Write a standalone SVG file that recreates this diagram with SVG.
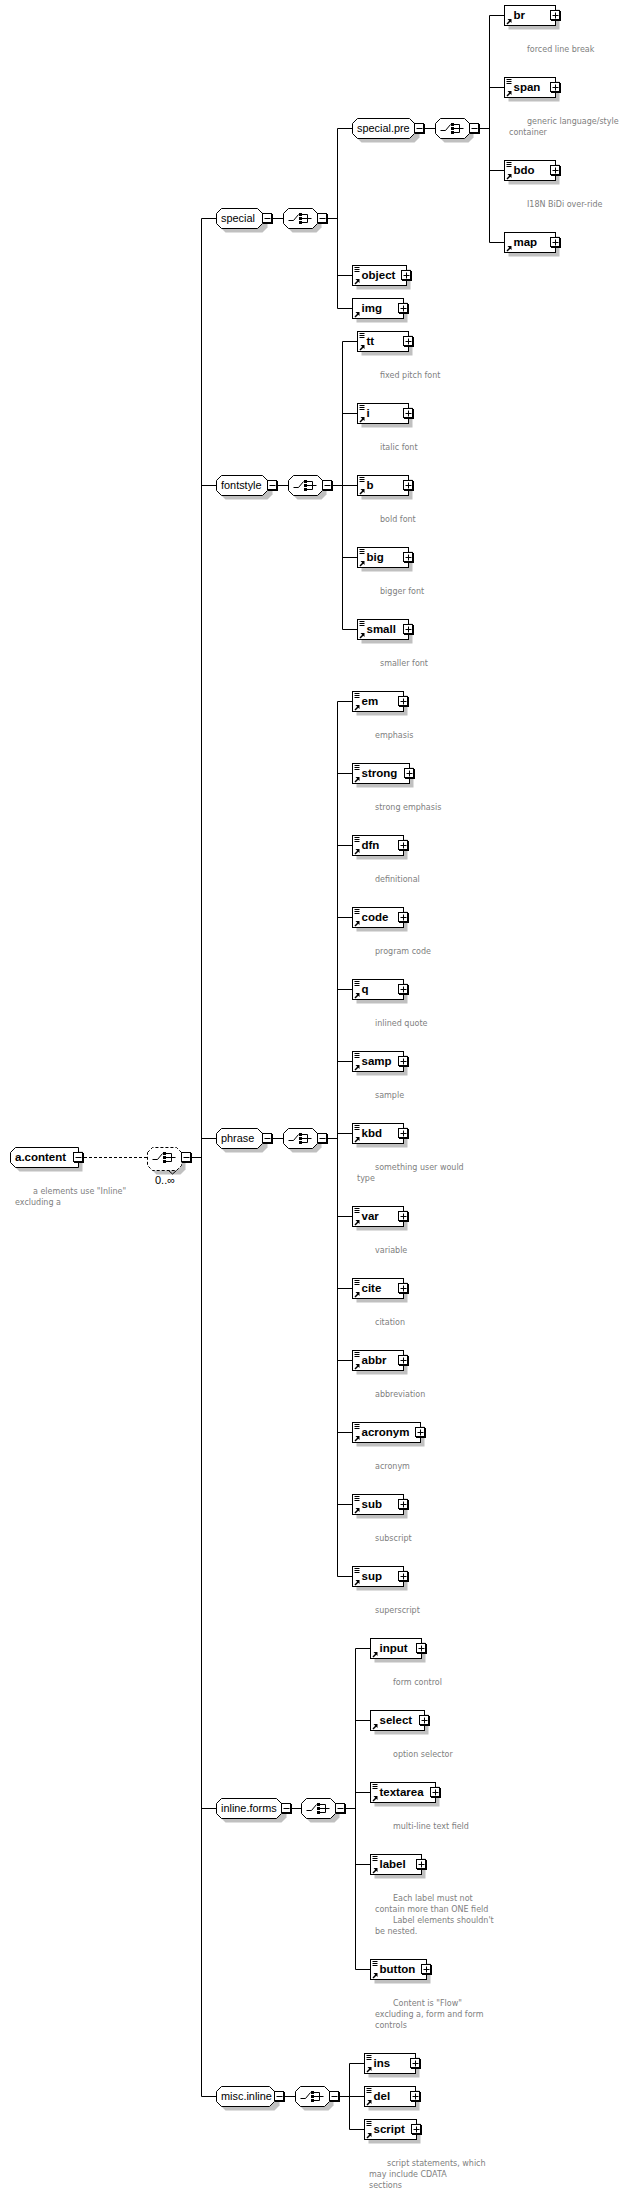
<svg xmlns="http://www.w3.org/2000/svg" width="632" height="2206" viewBox="0 0 632 2206">
<style>
text{font-family:"Liberation Sans",Arial,sans-serif;fill:#000}
.n{font-size:11.5px;font-weight:bold}
.g{font-size:10.9px}
.d{font-family:"DejaVu Sans",Verdana,sans-serif;font-size:8px;fill:#808080}
.o{font-size:11px}
.sh{fill:#c0c0c0;stroke:none}
.bx{fill:#fff;stroke:#000;stroke-width:1}
.ln{fill:none;stroke:#000;stroke-width:1}
.dash{fill:none;stroke:#000;stroke-width:1;stroke-dasharray:3 2}
.bk{fill:#000;stroke:none}
</style>
<defs>
<g id="plus"><rect class="bk" x="-4.500" y="-4.500" width="10" height="10"/><rect class="bx" x="-5" y="-5" width="9" height="9"/><path class="ln" d="M-3,0H3M0,-3V3"/></g>
<g id="minus"><rect class="bk" x="-4.500" y="-4.500" width="10" height="10"/><rect class="bx" x="-5" y="-5" width="9" height="9"/><path class="ln" d="M-3,0H3"/></g>
<path id="doc" class="ln" d="M2,-8H7M2,-6H7M2,-4H7"/>
<g id="ref"><path class="bk" d="M3,3.500H7V7.500L5.800,6.300L3,9L2,8L4.700,5.200Z"/></g>
<polygon id="ch" points="0,-5 5,-10 29,-10 34,-5 34,5 29,10 5,10 0,5"/>
<g id="sw"><path class="ln" d="M5,2H10L15,-4"/><rect class="bk" x="15.500" y="-5.500" width="3" height="3"/><rect class="bk" x="15.500" y="-1.500" width="3" height="3"/><rect class="bk" x="15.500" y="2.500" width="3" height="3"/><path class="ln" d="M18,-4H24V4H18M18,0H28"/></g>
<g id="choice"><use href="#ch" class="sh" x="4" y="4"/><use href="#ch" class="bx"/><use href="#sw"/><use href="#minus" x="39"/></g>
</defs>
<g id="connectors">
<path class="dash" d="M84,1157.500H147"/>
<path class="ln" d="M191,1157.500H201.500M201.500,218.500V2096.500M201.500,218.500H216.500M201.500,485.500H216.500M201.500,1138.500H216.500M201.500,1808.500H216.500M201.500,2096.500H216.500"/>
<path class="ln" d="M267.500,218.500H283.500M322.500,218.500H337.500M337.500,128.500V308.500M337.500,128.500H352.500M337.500,275.500H352.500M337.500,308.500H352.500"/>
<path class="ln" d="M419.500,128.500H435.500M474.500,128.500H489.500M489.500,15.500V242.500M489.500,15.500H504.500M489.500,87.500H504.500M489.500,170.500H504.500M489.500,242.500H504.500"/>
<path class="ln" d="M272.500,485.500H288.500M327.500,485.500H342.500M342.500,341.500V629.500M342.500,341.500H357.500M342.500,413.500H357.500M342.500,485.500H357.500M342.500,557.500H357.500M342.500,629.500H357.500"/>
<path class="ln" d="M267.500,1138.500H283.500M322.500,1138.500H337.500M337.500,701.500V1576.500M337.500,701.500H352.500M337.500,773.500H352.500M337.500,845.500H352.500M337.500,917.500H352.500M337.500,989.500H352.500M337.500,1061.500H352.500M337.500,1133.500H352.500M337.500,1216.500H352.500M337.500,1288.500H352.500M337.500,1360.500H352.500M337.500,1432.500H352.500M337.500,1504.500H352.500M337.500,1576.500H352.500"/>
<path class="ln" d="M286.500,1808.500H301.500M340.500,1808.500H355.500M355.500,1648.500V1969.500M355.500,1648.500H370.500M355.500,1720.500H370.500M355.500,1792.500H370.500M355.500,1864.500H370.500M355.500,1969.500H370.500"/>
<path class="ln" d="M279.500,2096.500H295.500M334.500,2096.500H349.500M349.500,2063.500V2129.500M349.500,2063.500H364.500M349.500,2096.500H364.500M349.500,2129.500H364.500"/>
</g>
<g id="a.content" transform="translate(10.500,1157.500)">
<polygon class="sh" points="4,-1 9,-6 72,-6 72,14 9,14 4,9"/>
<polygon class="bx" points="0,-5 5,-10 68,-10 68,10 5,10 0,5"/>
<use href="#minus" x="68"/>
<text class="n" x="4.500" y="3.500">a.content</text>
<text class="d" x="22.500" y="36.500">a elements use "Inline"</text>
<text class="d" x="4.500" y="47.500">excluding a</text>
</g>
<g id="root-choice" transform="translate(147.500,1157.500)">
<polygon class="sh" points="4,-1 9,-6 33,-6 38,-1 38,12 33,17 9,17 4,12"/>
<polygon points="0,-5 5,-10 29,-10 34,-5 34,8 29,13 5,13 0,8" fill="#fff" stroke="none"/>
<polygon class="dash" points="0,-5 5,-10 29,-10 34,-5 34,8 29,13 5,13 0,8"/>
<path class="ln" d="M21,13L25,16.500L29,13"/>
<use href="#sw"/>
<use href="#minus" x="39"/>
<text class="o" x="7.500" y="26.500">0..∞</text>
</g>
<g id="special" transform="translate(216.500,218.500)">
<polygon class="sh" points="4,-1 9,-6 46,-6 51,-1 51,9 46,14 9,14 4,9"/>
<polygon class="bx" points="0,-5 5,-10 41,-10 46,-5 46,5 41,10 5,10 0,5"/>
<use href="#minus" x="51"/><text class="g" x="4.500" y="3.500">special</text>
</g>
<use id="special-choice" href="#choice" x="283.500" y="218.500"/>
<g id="special.pre" transform="translate(352.500,128.500)">
<polygon class="sh" points="4,-1 9,-6 62,-6 67,-1 67,9 62,14 9,14 4,9"/>
<polygon class="bx" points="0,-5 5,-10 57,-10 62,-5 62,5 57,10 5,10 0,5"/>
<use href="#minus" x="67"/><text class="g" x="4.500" y="3.500">special.pre</text>
</g>
<use id="special.pre-choice" href="#choice" x="435.500" y="128.500"/>
<g id="br" transform="translate(504.500,15.500)"><rect class="sh" x="4" y="-6" width="51" height="20"/><rect class="bx" x="0" y="-10" width="51" height="20"/><use href="#ref"/><use href="#plus" x="51"/><text class="n" x="9" y="3.500">br</text><text class="d" x="22.500" y="36.500">forced line break</text></g>
<g id="span" transform="translate(504.500,87.500)"><rect class="sh" x="4" y="-6" width="51" height="20"/><rect class="bx" x="0" y="-10" width="51" height="20"/><use href="#doc"/><use href="#ref"/><use href="#plus" x="51"/><text class="n" x="9" y="3.500">span</text><text class="d" x="22.500" y="36.500">generic language/style</text><text class="d" x="4.500" y="47.500">container</text></g>
<g id="bdo" transform="translate(504.500,170.500)"><rect class="sh" x="4" y="-6" width="51" height="20"/><rect class="bx" x="0" y="-10" width="51" height="20"/><use href="#doc"/><use href="#ref"/><use href="#plus" x="51"/><text class="n" x="9" y="3.500">bdo</text><text class="d" x="22.500" y="36.500">I18N BiDi over-ride</text></g>
<g id="map" transform="translate(504.500,242.500)"><rect class="sh" x="4" y="-6" width="51" height="20"/><rect class="bx" x="0" y="-10" width="51" height="20"/><use href="#ref"/><use href="#plus" x="51"/><text class="n" x="9" y="3.500">map</text></g>
<g id="object" transform="translate(352.500,275.500)"><rect class="sh" x="4" y="-6" width="54" height="20"/><rect class="bx" x="0" y="-10" width="54" height="20"/><use href="#doc"/><use href="#ref"/><use href="#plus" x="54"/><text class="n" x="9" y="3.500">object</text></g>
<g id="img" transform="translate(352.500,308.500)"><rect class="sh" x="4" y="-6" width="51" height="20"/><rect class="bx" x="0" y="-10" width="51" height="20"/><use href="#ref"/><use href="#plus" x="51"/><text class="n" x="9" y="3.500">img</text></g>
<g id="fontstyle" transform="translate(216.500,485.500)">
<polygon class="sh" points="4,-1 9,-6 51,-6 56,-1 56,9 51,14 9,14 4,9"/>
<polygon class="bx" points="0,-5 5,-10 46,-10 51,-5 51,5 46,10 5,10 0,5"/>
<use href="#minus" x="56"/><text class="g" x="4.500" y="3.500">fontstyle</text>
</g>
<use id="fontstyle-choice" href="#choice" x="288.500" y="485.500"/>
<g id="tt" transform="translate(357.500,341.500)"><rect class="sh" x="4" y="-6" width="51" height="20"/><rect class="bx" x="0" y="-10" width="51" height="20"/><use href="#doc"/><use href="#ref"/><use href="#plus" x="51"/><text class="n" x="9" y="3.500">tt</text><text class="d" x="22.500" y="36.500">fixed pitch font</text></g>
<g id="i" transform="translate(357.500,413.500)"><rect class="sh" x="4" y="-6" width="51" height="20"/><rect class="bx" x="0" y="-10" width="51" height="20"/><use href="#doc"/><use href="#ref"/><use href="#plus" x="51"/><text class="n" x="9" y="3.500">i</text><text class="d" x="22.500" y="36.500">italic font</text></g>
<g id="b" transform="translate(357.500,485.500)"><rect class="sh" x="4" y="-6" width="51" height="20"/><rect class="bx" x="0" y="-10" width="51" height="20"/><use href="#doc"/><use href="#ref"/><use href="#plus" x="51"/><text class="n" x="9" y="3.500">b</text><text class="d" x="22.500" y="36.500">bold font</text></g>
<g id="big" transform="translate(357.500,557.500)"><rect class="sh" x="4" y="-6" width="51" height="20"/><rect class="bx" x="0" y="-10" width="51" height="20"/><use href="#doc"/><use href="#ref"/><use href="#plus" x="51"/><text class="n" x="9" y="3.500">big</text><text class="d" x="22.500" y="36.500">bigger font</text></g>
<g id="small" transform="translate(357.500,629.500)"><rect class="sh" x="4" y="-6" width="51" height="20"/><rect class="bx" x="0" y="-10" width="51" height="20"/><use href="#doc"/><use href="#ref"/><use href="#plus" x="51"/><text class="n" x="9" y="3.500">small</text><text class="d" x="22.500" y="36.500">smaller font</text></g>
<g id="phrase" transform="translate(216.500,1138.500)">
<polygon class="sh" points="4,-1 9,-6 46,-6 51,-1 51,9 46,14 9,14 4,9"/>
<polygon class="bx" points="0,-5 5,-10 41,-10 46,-5 46,5 41,10 5,10 0,5"/>
<use href="#minus" x="51"/><text class="g" x="4.500" y="3.500">phrase</text>
</g>
<use id="phrase-choice" href="#choice" x="283.500" y="1138.500"/>
<g id="em" transform="translate(352.500,701.500)"><rect class="sh" x="4" y="-6" width="51" height="20"/><rect class="bx" x="0" y="-10" width="51" height="20"/><use href="#doc"/><use href="#ref"/><use href="#plus" x="51"/><text class="n" x="9" y="3.500">em</text><text class="d" x="22.500" y="36.500">emphasis</text></g>
<g id="strong" transform="translate(352.500,773.500)"><rect class="sh" x="4" y="-6" width="57" height="20"/><rect class="bx" x="0" y="-10" width="57" height="20"/><use href="#doc"/><use href="#ref"/><use href="#plus" x="57"/><text class="n" x="9" y="3.500">strong</text><text class="d" x="22.500" y="36.500">strong emphasis</text></g>
<g id="dfn" transform="translate(352.500,845.500)"><rect class="sh" x="4" y="-6" width="51" height="20"/><rect class="bx" x="0" y="-10" width="51" height="20"/><use href="#doc"/><use href="#ref"/><use href="#plus" x="51"/><text class="n" x="9" y="3.500">dfn</text><text class="d" x="22.500" y="36.500">definitional</text></g>
<g id="code" transform="translate(352.500,917.500)"><rect class="sh" x="4" y="-6" width="51" height="20"/><rect class="bx" x="0" y="-10" width="51" height="20"/><use href="#doc"/><use href="#ref"/><use href="#plus" x="51"/><text class="n" x="9" y="3.500">code</text><text class="d" x="22.500" y="36.500">program code</text></g>
<g id="q" transform="translate(352.500,989.500)"><rect class="sh" x="4" y="-6" width="51" height="20"/><rect class="bx" x="0" y="-10" width="51" height="20"/><use href="#doc"/><use href="#ref"/><use href="#plus" x="51"/><text class="n" x="9" y="3.500">q</text><text class="d" x="22.500" y="36.500">inlined quote</text></g>
<g id="samp" transform="translate(352.500,1061.500)"><rect class="sh" x="4" y="-6" width="51" height="20"/><rect class="bx" x="0" y="-10" width="51" height="20"/><use href="#doc"/><use href="#ref"/><use href="#plus" x="51"/><text class="n" x="9" y="3.500">samp</text><text class="d" x="22.500" y="36.500">sample</text></g>
<g id="kbd" transform="translate(352.500,1133.500)"><rect class="sh" x="4" y="-6" width="51" height="20"/><rect class="bx" x="0" y="-10" width="51" height="20"/><use href="#doc"/><use href="#ref"/><use href="#plus" x="51"/><text class="n" x="9" y="3.500">kbd</text><text class="d" x="22.500" y="36.500">something user would</text><text class="d" x="4.500" y="47.500">type</text></g>
<g id="var" transform="translate(352.500,1216.500)"><rect class="sh" x="4" y="-6" width="51" height="20"/><rect class="bx" x="0" y="-10" width="51" height="20"/><use href="#doc"/><use href="#ref"/><use href="#plus" x="51"/><text class="n" x="9" y="3.500">var</text><text class="d" x="22.500" y="36.500">variable</text></g>
<g id="cite" transform="translate(352.500,1288.500)"><rect class="sh" x="4" y="-6" width="51" height="20"/><rect class="bx" x="0" y="-10" width="51" height="20"/><use href="#doc"/><use href="#ref"/><use href="#plus" x="51"/><text class="n" x="9" y="3.500">cite</text><text class="d" x="22.500" y="36.500">citation</text></g>
<g id="abbr" transform="translate(352.500,1360.500)"><rect class="sh" x="4" y="-6" width="51" height="20"/><rect class="bx" x="0" y="-10" width="51" height="20"/><use href="#doc"/><use href="#ref"/><use href="#plus" x="51"/><text class="n" x="9" y="3.500">abbr</text><text class="d" x="22.500" y="36.500">abbreviation</text></g>
<g id="acronym" transform="translate(352.500,1432.500)"><rect class="sh" x="4" y="-6" width="68" height="20"/><rect class="bx" x="0" y="-10" width="68" height="20"/><use href="#doc"/><use href="#ref"/><use href="#plus" x="68"/><text class="n" x="9" y="3.500">acronym</text><text class="d" x="22.500" y="36.500">acronym</text></g>
<g id="sub" transform="translate(352.500,1504.500)"><rect class="sh" x="4" y="-6" width="51" height="20"/><rect class="bx" x="0" y="-10" width="51" height="20"/><use href="#doc"/><use href="#ref"/><use href="#plus" x="51"/><text class="n" x="9" y="3.500">sub</text><text class="d" x="22.500" y="36.500">subscript</text></g>
<g id="sup" transform="translate(352.500,1576.500)"><rect class="sh" x="4" y="-6" width="51" height="20"/><rect class="bx" x="0" y="-10" width="51" height="20"/><use href="#doc"/><use href="#ref"/><use href="#plus" x="51"/><text class="n" x="9" y="3.500">sup</text><text class="d" x="22.500" y="36.500">superscript</text></g>
<g id="inline.forms" transform="translate(216.500,1808.500)">
<polygon class="sh" points="4,-1 9,-6 65,-6 70,-1 70,9 65,14 9,14 4,9"/>
<polygon class="bx" points="0,-5 5,-10 60,-10 65,-5 65,5 60,10 5,10 0,5"/>
<use href="#minus" x="70"/><text class="g" x="4.500" y="3.500">inline.forms</text>
</g>
<use id="inline.forms-choice" href="#choice" x="301.500" y="1808.500"/>
<g id="input" transform="translate(370.500,1648.500)"><rect class="sh" x="4" y="-6" width="51" height="20"/><rect class="bx" x="0" y="-10" width="51" height="20"/><use href="#ref"/><use href="#plus" x="51"/><text class="n" x="9" y="3.500">input</text><text class="d" x="22.500" y="36.500">form control</text></g>
<g id="select" transform="translate(370.500,1720.500)"><rect class="sh" x="4" y="-6" width="54" height="20"/><rect class="bx" x="0" y="-10" width="54" height="20"/><use href="#ref"/><use href="#plus" x="54"/><text class="n" x="9" y="3.500">select</text><text class="d" x="22.500" y="36.500">option selector</text></g>
<g id="textarea" transform="translate(370.500,1792.500)"><rect class="sh" x="4" y="-6" width="65" height="20"/><rect class="bx" x="0" y="-10" width="65" height="20"/><use href="#doc"/><use href="#ref"/><use href="#plus" x="65"/><text class="n" x="9" y="3.500">textarea</text><text class="d" x="22.500" y="36.500">multi-line text field</text></g>
<g id="label" transform="translate(370.500,1864.500)"><rect class="sh" x="4" y="-6" width="51" height="20"/><rect class="bx" x="0" y="-10" width="51" height="20"/><use href="#doc"/><use href="#ref"/><use href="#plus" x="51"/><text class="n" x="9" y="3.500">label</text><text class="d" x="22.500" y="36.500">Each label must not</text><text class="d" x="4.500" y="47.500">contain more than ONE field</text><text class="d" x="22.500" y="58.500">Label elements shouldn't</text><text class="d" x="4.500" y="69.500">be nested.</text></g>
<g id="button" transform="translate(370.500,1969.500)"><rect class="sh" x="4" y="-6" width="56" height="20"/><rect class="bx" x="0" y="-10" width="56" height="20"/><use href="#doc"/><use href="#ref"/><use href="#plus" x="56"/><text class="n" x="9" y="3.500">button</text><text class="d" x="22.500" y="36.500">Content is "Flow"</text><text class="d" x="4.500" y="47.500">excluding a, form and form</text><text class="d" x="4.500" y="58.500">controls</text></g>
<g id="misc.inline" transform="translate(216.500,2096.500)">
<polygon class="sh" points="4,-1 9,-6 58,-6 63,-1 63,9 58,14 9,14 4,9"/>
<polygon class="bx" points="0,-5 5,-10 53,-10 58,-5 58,5 53,10 5,10 0,5"/>
<use href="#minus" x="63"/><text class="g" x="4.500" y="3.500">misc.inline</text>
</g>
<use id="misc.inline-choice" href="#choice" x="295.500" y="2096.500"/>
<g id="ins" transform="translate(364.500,2063.500)"><rect class="sh" x="4" y="-6" width="51" height="20"/><rect class="bx" x="0" y="-10" width="51" height="20"/><use href="#doc"/><use href="#ref"/><use href="#plus" x="51"/><text class="n" x="9" y="3.500">ins</text></g>
<g id="del" transform="translate(364.500,2096.500)"><rect class="sh" x="4" y="-6" width="51" height="20"/><rect class="bx" x="0" y="-10" width="51" height="20"/><use href="#doc"/><use href="#ref"/><use href="#plus" x="51"/><text class="n" x="9" y="3.500">del</text></g>
<g id="script" transform="translate(364.500,2129.500)"><rect class="sh" x="4" y="-6" width="52" height="20"/><rect class="bx" x="0" y="-10" width="52" height="20"/><use href="#doc"/><use href="#ref"/><use href="#plus" x="52"/><text class="n" x="9" y="3.500">script</text><text class="d" x="22.500" y="36.500">script statements, which</text><text class="d" x="4.500" y="47.500">may include CDATA</text><text class="d" x="4.500" y="58.500">sections</text></g>
</svg>
